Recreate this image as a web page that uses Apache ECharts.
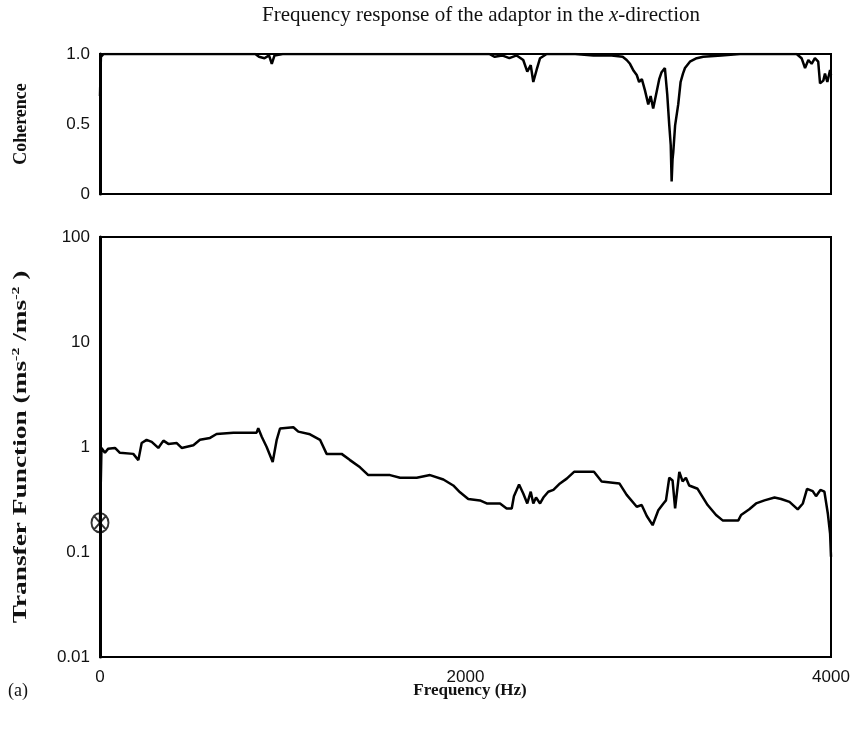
<!DOCTYPE html>
<html>
<head>
<meta charset="utf-8">
<script src="https://cdn.jsdelivr.net/npm/echarts@6/dist/echarts.min.js"></script>
<style>html,body{margin:0;padding:0;background:#fff}#c{width:861px;height:729px}</style>
</head>
<body>
<div id="c"></div>
<script>
// Coherence (top panel)
var cohFreq = [0,5,20,850,870,900,925,940,955,1000,2130,2160,2200,2240,2280,2316,2338,2357,2371,2389,2408,2444,2600,2700,2800,2860,2882,2900,2920,2937,2950,2965,2982,3000,3013,3027,3046,3060,3073,3091,3104,3115,3123,3128,3133,3137,3147,3164,3177,3190,3201,3228,3265,3301,3400,3502,3812,3839,3858,3876,3894,3912,3930,3940,3958,3967,3980,3995,4000];
var cohVal  = [0.70,0.98,1.0,1.0,0.98,0.97,0.99,0.93,0.99,1.0,1.0,0.98,0.99,0.97,0.99,0.957,0.874,0.92,0.80,0.886,0.97,1.0,1.0,0.99,0.99,0.98,0.957,0.93,0.88,0.85,0.80,0.82,0.74,0.64,0.70,0.61,0.73,0.82,0.87,0.90,0.71,0.49,0.35,0.09,0.25,0.30,0.49,0.64,0.80,0.86,0.90,0.945,0.97,0.98,0.99,1.0,1.0,0.97,0.90,0.957,0.93,0.97,0.945,0.79,0.81,0.86,0.80,0.886,0.85];

// Transfer function (bottom panel)
var tfFreq = [0,8,15,27,44,82,109,182,210,228,255,283,319,347,374,420,447,511,547,602,638,730,857,866,885,912,945,967,985,1058,1085,1149,1204,1240,1322,1368,1423,1468,1587,1642,1733,1806,1879,1933,1970,2015,2079,2116,2189,2225,2253,2265,2293,2316,2338,2357,2371,2386,2408,2426,2453,2481,2517,2554,2594,2645,2703,2745,2842,2882,2937,2964,2992,3024,3055,3083,3097,3115,3133,3147,3170,3188,3206,3224,3270,3325,3371,3407,3493,3508,3553,3590,3636,3691,3727,3773,3818,3846,3869,3900,3918,3942,3964,3983,3995,4000];
var tfVal  = [0.19,0.98,0.98,0.88,0.96,0.98,0.88,0.86,0.75,1.09,1.17,1.12,0.98,1.15,1.07,1.09,0.98,1.04,1.17,1.22,1.33,1.37,1.37,1.51,1.25,1.0,0.72,1.17,1.50,1.54,1.40,1.32,1.17,0.86,0.86,0.75,0.64,0.54,0.54,0.51,0.51,0.54,0.49,0.43,0.37,0.32,0.31,0.29,0.29,0.26,0.26,0.34,0.44,0.36,0.29,0.375,0.29,0.33,0.29,0.33,0.375,0.39,0.45,0.50,0.58,0.58,0.58,0.47,0.45,0.35,0.27,0.28,0.22,0.18,0.25,0.29,0.31,0.51,0.48,0.26,0.58,0.47,0.51,0.43,0.40,0.28,0.225,0.20,0.20,0.225,0.255,0.29,0.31,0.33,0.32,0.30,0.255,0.29,0.40,0.38,0.34,0.39,0.375,0.23,0.15,0.09];

// Marker at origin
var markFreq = [0];
var markVal = [0.19];

var xTicks = [0, 2000, 4000];
var cohTicks = [0, 0.5, 1.0];
var tfTicks = [0.01, 0.1, 1, 10, 100];

function pairs(a, b) { return a.map(function (v, i) { return [v, b[i]]; }); }

var chart = echarts.init(document.getElementById('c'), null, {renderer: 'canvas'});
var serif = '"Liberation Serif","Times New Roman",serif';
var sans = '"Liberation Sans",Arial,sans-serif';

chart.setOption({
  animation: false,
  backgroundColor: '#fff',
  grid: [
    {left: 100, width: 731, top: 54, height: 140, show: true, borderColor: '#000', borderWidth: 2},
    {left: 100, width: 731, top: 237, height: 420, show: true, borderColor: '#000', borderWidth: 2}
  ],
  xAxis: [
    {gridIndex: 0, type: 'value', min: xTicks[0], max: xTicks[2], interval: 2000,
      axisLine: {show: false}, axisTick: {show: false}, axisLabel: {show: false}, splitLine: {show: false}},
    {gridIndex: 1, type: 'value', min: xTicks[0], max: xTicks[2], interval: 2000,
      axisLine: {show: true, onZero: false, lineStyle: {color: '#000', width: 2}}, axisTick: {show: false},
      axisLabel: {fontFamily: sans, fontSize: 17, color: '#111', margin: 12,
        formatter: function (v) { return String(v); }},
      splitLine: {show: false}}
  ],
  yAxis: [
    {gridIndex: 0, type: 'value', min: 0, max: 1, interval: 0.5,
      axisLine: {show: true, lineStyle: {color: '#000', width: 3}}, axisTick: {show: false},
      axisLabel: {fontFamily: sans, fontSize: 17, color: '#111', margin: 10,
        formatter: function (v) { return v === 1 ? '1.0' : String(v); }},
      splitLine: {show: false}},
    {gridIndex: 1, type: 'log', logBase: 10, min: tfTicks[0], max: tfTicks[4],
      axisLine: {show: true, lineStyle: {color: '#000', width: 3}}, axisTick: {show: false},
      axisLabel: {fontFamily: sans, fontSize: 17, color: '#111', margin: 10,
        formatter: function (v) { return String(+v.toPrecision(3)); }},
      splitLine: {show: false}}
  ],
  graphic: [
    {type: 'text', x: 481, y: 15, style: {
      text: 'Frequency response of the adaptor in the {i|x}-direction',
      font: '21px ' + serif, fill: '#111', align: 'center', verticalAlign: 'middle',
      rich: {i: {fontFamily: serif, fontStyle: 'italic', fontSize: 21, fill: '#111'}}}},
    {type: 'text', x: 21, y: 124, rotation: Math.PI / 2, style: {
      text: 'Coherence', font: 'bold 18px ' + serif, fill: '#111', align: 'center', verticalAlign: 'middle'}},
    {type: 'text', x: 21, y: 447, rotation: Math.PI / 2, scaleX: 1.44, style: {
      text: 'Transfer Function (ms{s|-2} /ms{s|-2} )', font: 'bold 19px ' + serif, fill: '#111',
      align: 'center', verticalAlign: 'middle',
      rich: {s: {fontFamily: serif, fontWeight: 'bold', fontSize: 11, fill: '#111', padding: [0, 0, 10, 0]}}}},
    {type: 'text', x: 470, y: 691, style: {
      text: 'Frequency (Hz)', font: 'bold 17px ' + serif, fill: '#111', align: 'center', verticalAlign: 'middle'}},
    {type: 'text', x: 8, y: 691, style: {text: '(a)', font: '18px ' + serif, fill: '#111', verticalAlign: 'middle'}}
  ],
  series: [
    {type: 'line', xAxisIndex: 0, yAxisIndex: 0, data: pairs(cohFreq, cohVal), showSymbol: false,
      lineStyle: {color: '#000', width: 2.5}},
    {type: 'line', xAxisIndex: 1, yAxisIndex: 1, data: pairs(tfFreq, tfVal), showSymbol: false,
      lineStyle: {color: '#000', width: 2.5}},
    {type: 'scatter', xAxisIndex: 1, yAxisIndex: 1, data: pairs(markFreq, markVal),
      symbol: 'path://M10,0 A10,10 0 1,1 9.99,0 Z M3,3 L17,17 M17,3 L3,17', symbolSize: [17, 19],
      itemStyle: {color: 'rgba(0,0,0,0)', borderColor: '#000', borderWidth: 2}}
  ]
});
</script>
</body>
</html>
